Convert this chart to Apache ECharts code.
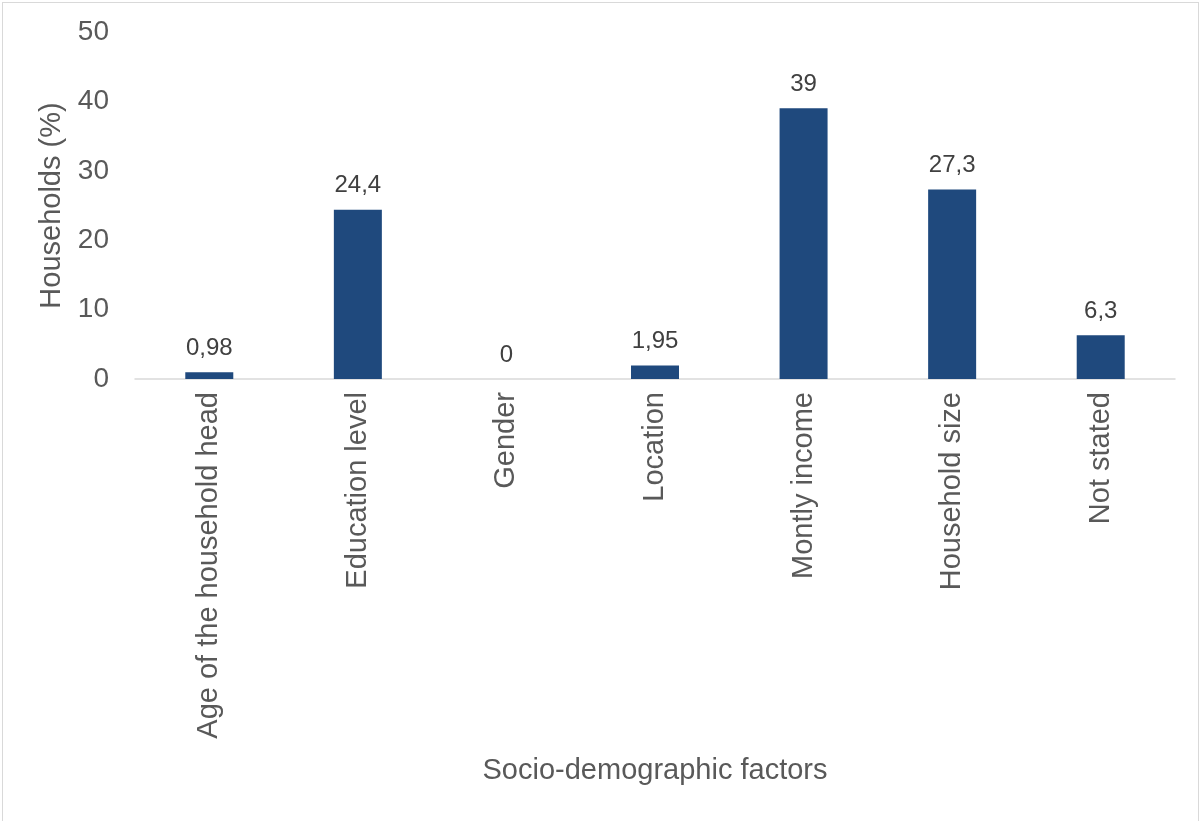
<!DOCTYPE html>
<html><head><meta charset="utf-8">
<script src="https://cdn.jsdelivr.net/npm/echarts@6/dist/echarts.min.js"></script>
<style>html,body{margin:0;padding:0;background:#fff}
#frame{position:absolute;left:2px;top:2px;width:1197px;height:830px;border:1px solid #d9d9d9;box-sizing:border-box}
#c{position:absolute;left:0;top:0;width:1204px;height:821px}</style>
</head><body><div id="frame"></div><div id="c"></div>
<script>
const categories = ["Age of the household head","Education level","Gender","Location","Montly income","Household size","Not stated"];
const values = [0.98, 24.4, 0, 1.95, 39, 27.3, 6.3];
const valueLabels = ["0,98","24,4","0","1,95","39","27,3","6,3"];
const yTicks = [0, 10, 20, 30, 40, 50];
const font = "Liberation Sans, Arial, sans-serif";
const chart = echarts.init(document.getElementById('c'));
chart.setOption({
  animation:false,
  grid:{left:135,right:29,top:32,bottom:442,containLabel:false},
  xAxis:{type:'category',data:categories,
    axisLine:{lineStyle:{color:'#d9d9d9',width:1.5}},axisTick:{show:false},
    axisLabel:{rotate:90,color:'#595959',fontSize:29,fontFamily:font,margin:13},
    name:'Socio-demographic factors',nameLocation:'middle',nameGap:377,
    nameTextStyle:{color:'#595959',fontSize:29,fontFamily:font}},
  yAxis:{type:'value',min:0,max:50,interval:10,
    axisLine:{show:false},axisTick:{show:false},splitLine:{show:false},
    axisLabel:{color:'#595959',fontSize:28,fontFamily:font,margin:26},
    name:'Households (%)',nameLocation:'middle',nameGap:68,
    nameTextStyle:{color:'#595959',fontSize:29,fontFamily:font}},
  series:[{type:'bar',data:values,barWidth:48,itemStyle:{color:'#1F497D'},
    label:{show:true,position:'top',distance:12,color:'#404040',fontSize:24,fontFamily:font,
      formatter:p=>valueLabels[p.dataIndex]}}]
});
</script></body></html>
